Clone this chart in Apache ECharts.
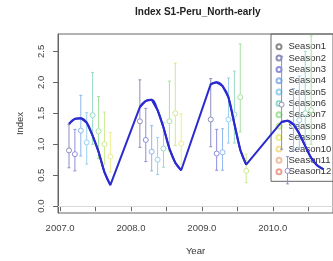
<!DOCTYPE html>
<html>
<head>
<meta charset="utf-8">
<title>Index S1-Peru_North-early</title>
<script src="https://cdn.jsdelivr.net/npm/echarts@6/dist/echarts.min.js"></script>
<style>
    html, body { margin: 0; padding: 0; background: #fff; }
    #main { width: 333px; height: 261px; }
</style>
</head>
<body>
<div id="main"></div>
<script>
    // legend entries and their colours
    var seasons = ['Season1', 'Season2', 'Season3', 'Season4', 'Season5', 'Season6',
                   'Season7', 'Season8', 'Season9', 'Season10', 'Season11', 'Season12'];
    var seasonColors = ['#8a8a8a', '#8e8eba', '#8f8fdc', '#8fb6ee', '#98d0f0', '#96dcc6',
                        '#a6e2a0', '#cdec8e', '#ecee8c', '#f2e092', '#f0c0a2', '#eca292'];

    var xTicks = [2007, 2007.5, 2008, 2008.5, 2009, 2009.5, 2010, 2010.5];
    var xLabels = [2007, 2008, 2009, 2010];
    var yTicks = [0, 0.5, 1, 1.5, 2, 2.5];

    // observed index with error bars (season number, estimate, lower, upper)
    var s2007 = [2, 3, 4, 5, 6, 7, 8, 9];
    var mid2007 = [0.90, 0.84, 1.22, 1.03, 1.47, 1.21, 1.00, 0.80];
    var lo2007 = [0.62, 0.57, 0.81, 0.68, 1.00, 0.77, 0.68, 0.55];
    var hi2007 = [1.32, 1.24, 1.79, 1.51, 2.16, 1.77, 1.52, 1.19];

    var s2008 = [2, 3, 4, 5, 6, 7, 8, 9];
    var mid2008 = [1.37, 1.07, 0.88, 0.75, 0.93, 1.37, 1.50, 1.01];
    var lo2008 = [0.95, 0.72, 0.57, 0.51, 0.63, 0.90, 0.98, 0.68];
    var hi2008 = [2.04, 1.58, 1.30, 1.11, 1.35, 2.02, 2.31, 1.49];

    var s2009 = [2, 3, 4, 5, 6, 7, 8];
    var mid2009 = [1.40, 0.85, 0.87, 1.40, 1.48, 1.76, 0.57];
    var lo2009 = [0.96, 0.58, 0.58, 1.02, 1.02, 1.20, 0.38];
    var hi2009 = [2.06, 1.24, 1.25, 2.07, 2.18, 2.62, 0.84];

    var s2010 = [2, 3, 4, 5, 6, 7];
    var mid2010 = [1.64, 0.57, 1.30, 1.39, 1.50, 1.55];
    var lo2010 = [0.92, 0.36, 0.90, 0.95, 1.00, 1.00];
    var hi2010 = [2.42, 0.80, 1.90, 2.10, 2.50, 2.75];

    // fitted curve (blue), by season
    var fitS2007 = [2, 3, 4, 5, 6, 7, 8, 9];
    var fit2007 = [1.33, 1.41, 1.42, 1.35, 1.14, 0.88, 0.55, 0.34];
    var fitS2008 = [2, 3, 4, 5, 6, 7, 8, 9];
    var fit2008 = [1.60, 1.70, 1.72, 1.55, 1.27, 0.93, 0.70, 0.58];
    var fitS2009 = [2, 3, 4, 5, 6, 7, 8];
    var fit2009 = [1.97, 2.00, 1.94, 1.76, 1.33, 0.91, 0.67];
    var fitS2010 = [2, 3, 4, 5, 6, 7, 8, 9];
    var fit2010 = [1.36, 1.38, 1.32, 1.17, 0.97, 0.78, 0.66, 0.60];

    function seasonX(year, s) {
        return year + (s - 0.5) / 12;
    }

    var obsYears = [
        [2007, s2007, mid2007, lo2007, hi2007],
        [2008, s2008, mid2008, lo2008, hi2008],
        [2009, s2009, mid2009, lo2009, hi2009],
        [2010, s2010, mid2010, lo2010, hi2010]
    ];
    var fitYears = [
        [2007, fitS2007, fit2007],
        [2008, fitS2008, fit2008],
        [2009, fitS2009, fit2009],
        [2010, fitS2010, fit2010]
    ];

    function renderBar(params, api) {
        var x = api.value(0);
        var pm = api.coord([x, api.value(1)]);
        var pl = api.coord([x, api.value(2)]);
        var ph = api.coord([x, api.value(3)]);
        var c = api.visual('color');
        var st = { stroke: c, lineWidth: 1 };
        return {
            type: 'group',
            children: [
                { type: 'line', shape: { x1: pm[0], y1: pl[1], x2: pm[0], y2: ph[1] }, style: st },
                { type: 'line', shape: { x1: pm[0] - 1.5, y1: pl[1], x2: pm[0] + 1.5, y2: pl[1] }, style: st },
                { type: 'line', shape: { x1: pm[0] - 1.5, y1: ph[1], x2: pm[0] + 1.5, y2: ph[1] }, style: st },
                { type: 'circle', shape: { cx: pm[0], cy: pm[1], r: 2.5 }, style: { stroke: c, lineWidth: 1, fill: '#fff' } }
            ]
        };
    }

    var series = [];
    seasons.forEach(function (name, i) {
        var sn = i + 1;
        var data = [];
        obsYears.forEach(function (oy) {
            var k = oy[1].indexOf(sn);
            if (k >= 0) data.push([seasonX(oy[0], sn), oy[2][k], oy[3][k], oy[4][k]]);
        });
        series.push({
            name: name,
            type: 'custom',
            renderItem: renderBar,
            itemStyle: { color: seasonColors[i] },
            clip: true,
            z: 2,
            data: data
        });
    });

    // straight pieces between years plus the horizontal zero line
    var allFit = [];
    fitYears.forEach(function (fy) {
        fy[1].forEach(function (s, k) { allFit.push([seasonX(fy[0], s), fy[2][k]]); });
    });
    series.push({
        name: 'fit',
        type: 'line',
        data: allFit,
        showSymbol: false,
        lineStyle: { color: '#2b2bd0', width: 2 },
        z: 5,
        markLine: {
            silent: true,
            symbol: 'none',
            label: { show: false },
            lineStyle: { color: '#d9d9d9', type: 'solid', width: 1 },
            data: [{ yAxis: 0 }]
        }
    });
    // smooth curve within each year
    fitYears.forEach(function (fy) {
        series.push({
            name: 'fit' + fy[0],
            type: 'line',
            data: fy[1].map(function (s, k) { return [seasonX(fy[0], s), fy[2][k]]; }),
            showSymbol: false,
            smooth: 0.4,
            lineStyle: { color: '#2b2bd0', width: 2 },
            z: 6
        });
    });

    var font = 'Liberation Sans';
    var chart = echarts.init(document.getElementById('main'));
    chart.setOption({
        animation: false,
        backgroundColor: '#fff',
        title: {
            text: 'Index S1-Peru_North-early',
            left: 135,
            top: 7,
            padding: 0,
            textStyle: { fontSize: 10, fontWeight: 'bold', color: '#222', fontFamily: font }
        },
        legend: {
            data: seasons,
            orient: 'vertical',
            left: 271,
            top: 34,
            z: 1,
            padding: [7, 10, 4, 4.5],
            itemGap: 0,
            itemWidth: 9,
            itemHeight: 5,
            icon: 'emptyCircle',
            itemStyle: { borderWidth: 1 },
            borderColor: '#666',
            borderWidth: 1,
            textStyle: { fontSize: 9.5, lineHeight: 11.36, color: '#333', fontFamily: font }
        },
        grid: {
            left: 58,
            right: -4,
            top: 34,
            bottom: 45,
            show: true,
            borderColor: '#666',
            borderWidth: 1
        },
        xAxis: {
            type: 'value',
            min: 2006.97,
            max: 2010.85,
            name: 'Year',
            nameLocation: 'middle',
            nameGap: 33,
            nameTextStyle: { fontSize: 9.5, color: '#333', fontFamily: font },
            axisLine: { lineStyle: { color: '#666' } },
            axisTick: { length: 5, customValues: xTicks, lineStyle: { color: '#666' } },
            axisLabel: {
                customValues: xLabels,
                margin: 10,
                fontSize: 9.5,
                color: '#444',
                fontFamily: font,
                formatter: function (v) { return v.toFixed(1); }
            },
            splitLine: { show: false }
        },
        yAxis: {
            type: 'value',
            min: -0.11,
            max: 2.78,
            name: 'Index',
            nameLocation: 'middle',
            nameGap: 33,
            nameTextStyle: { fontSize: 9.5, color: '#333', fontFamily: font },
            axisLine: { show: true, lineStyle: { color: '#666' } },
            axisTick: { show: true, length: 5, customValues: yTicks, lineStyle: { color: '#666' } },
            axisLabel: {
                customValues: yTicks,
                rotate: 90,
                margin: 12,
                fontSize: 9.5,
                color: '#444',
                fontFamily: font,
                formatter: function (v) { return v.toFixed(1); }
            },
            splitLine: { show: false }
        },
        series: series
    });
</script>
</body>
</html>
